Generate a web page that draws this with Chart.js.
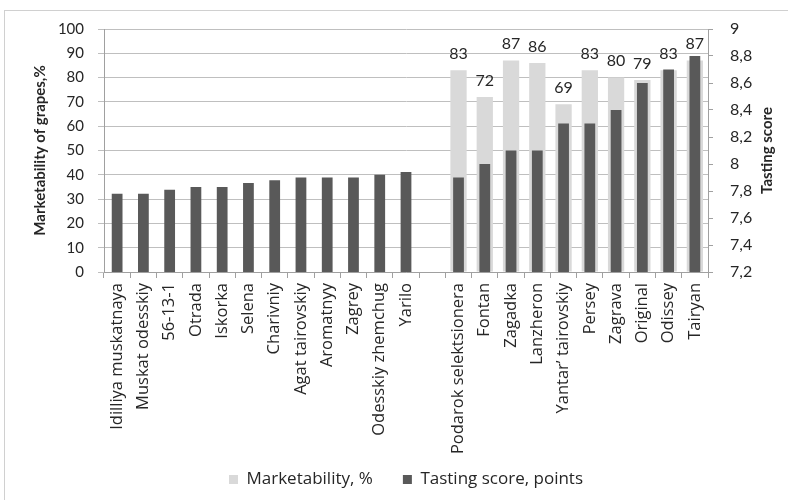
<!DOCTYPE html>
<html>
<head>
<meta charset="utf-8">
<script src="https://cdn.jsdelivr.net/npm/chart.js@4.4.1/dist/chart.umd.min.js"></script>
<style>
  html, body { margin: 0; padding: 0; background: #ffffff; overflow: hidden; }
  #wrap { position: relative; width: 788px; height: 500px; }
  #frame { position: absolute; left: 4px; top: 10px; right: -10px; bottom: -10px;
           border: 1px solid #d0d0d0; pointer-events: none; }
  canvas { position: absolute; left: 0; top: 0; }
</style>
</head>
<body>
<div id="wrap">
  <canvas id="chart" width="788" height="500"></canvas>
  <div id="frame"></div>
</div>
<script>
// Grape varieties (the empty entry separates the two groups)
const categories = [
  'Idilliya muskatnaya', 'Muskat odesskiy', '56-13-1', 'Otrada', 'Iskorka', 'Selena',
  'Charivniy', 'Agat tairovskiy', 'Aromatnyy', 'Zagrey', 'Odesskiy zhemchug', 'Yarilo',
  '',
  'Podarok selektsionera', 'Fontan', 'Zagadka', 'Lanzheron', 'Yantar\u2019 tairovskiy',
  'Persey', 'Zagrava', 'Original', 'Odissey', 'Tairyan'
];

// Marketability of grapes, %
const marketability = [
  null, null, null, null, null, null, null, null, null, null, null, null,
  null,
  83, 72, 87, 86, 69, 83, 80, 79, 83, 87
];

// Tasting score, points
const tastingScore = [
  7.78, 7.78, 7.81, 7.83, 7.83, 7.86, 7.88, 7.90, 7.90, 7.90, 7.92, 7.94,
  null,
  7.9, 8.0, 8.1, 8.1, 8.3, 8.3, 8.4, 8.6, 8.7, 8.8
];

// Right-axis tick labels (decimal comma)
const tastingTicks = ['7,2', '7,4', '7,6', '7,8', '8', '8,2', '8,4', '8,6', '8,8', '9'];

const FONT = 'Lato';
const WIDE = "'Open Sans'";
const TEXT = '#262626';
const GRID = '#bfbfbf';
const AXIS = '#a0a0a0';

// Value labels above the marketability bars
const valueLabels = {
  id: 'valueLabels',
  afterDatasetsDraw(chart) {
    const meta = chart.getDatasetMeta(0);
    const ctx = chart.ctx;
    ctx.save();
    ctx.font = '16px ' + FONT;
    ctx.fillStyle = TEXT;
    ctx.textAlign = 'center';
    ctx.textBaseline = 'alphabetic';
    meta.data.forEach((bar, i) => {
      const v = marketability[i];
      if (v === null || v === undefined) return;
      ctx.fillText(String(v), bar.x, bar.y - 11.5);
    });
    ctx.restore();
  }
};

// Right axis title, reading bottom to top
const rightTitle = {
  id: 'rightTitle',
  afterDraw(chart) {
    const s = chart.scales.y2;
    const ctx = chart.ctx;
    ctx.save();
    ctx.translate(s.right - 21, (s.top + s.bottom) / 2);
    ctx.rotate(-Math.PI / 2);
    ctx.font = 'bold 15px ' + FONT;
    ctx.fillStyle = TEXT;
    ctx.textAlign = 'center';
    ctx.textBaseline = 'middle';
    ctx.fillText('Tasting score', 0, 0);
    ctx.restore();
  }
};

// Legend row sits closer to the category labels than its item spacing would imply
const legendLift = {
  id: 'legendLift',
  afterLayout(chart) {
    const lg = chart.legend;
    if (!lg) return;
    lg.top -= 17;
    lg.height += 17;
  }
};

new Chart(document.getElementById('chart'), {
  type: 'bar',
  data: {
    labels: categories,
    datasets: [
      {
        label: 'Marketability, %',
        data: marketability,
        yAxisID: 'y',
        backgroundColor: '#d9d9d9',
        grouped: false,
        categoryPercentage: 1,
        barPercentage: 0.62,
        order: 1
      },
      {
        label: 'Tasting score, points',
        data: tastingScore,
        yAxisID: 'y2',
        backgroundColor: '#595959',
        grouped: false,
        categoryPercentage: 1,
        barPercentage: 0.41,
        order: 0
      }
    ]
  },
  options: {
    responsive: false,
    animation: false,
    devicePixelRatio: 1,
    layout: { padding: { left: 27, right: 0, top: 29, bottom: 0 } },
    plugins: {
      tooltip: { enabled: false },
      legend: {
        position: 'bottom',
        fullSize: false,
        reverse: true,
        maxHeight: 42,
        labels: {
          boxWidth: 9,
          boxHeight: 9,
          padding: 30,
          color: TEXT,
          font: { family: WIDE, size: 17 }
        }
      }
    },
    scales: {
      x: {
        grid: { display: true, drawOnChartArea: false, offset: true, tickLength: 6, color: AXIS },
        border: { display: true, color: AXIS },
        ticks: {
          autoSkip: false, maxRotation: 90, minRotation: 90, padding: 5,
          color: TEXT, font: { family: WIDE, size: 16.5 }
        },
        afterFit(s) { s.height = 186; }
      },
      y: {
        position: 'left',
        min: 0, max: 100,
        ticks: { stepSize: 10, padding: 14, color: TEXT, font: { family: FONT, size: 15 } },
        grid: { color: GRID, tickLength: 6 },
        border: { display: true, color: AXIS },
        title: {
          display: true,
          text: 'Marketability of grapes,%',
          color: TEXT,
          font: { family: FONT, size: 15, weight: 'bold' },
          padding: { top: 4, bottom: 0 }
        },
        afterFit(s) { s.width = 77; }
      },
      y2: {
        position: 'right',
        min: 7.2, max: 9,
        ticks: {
          stepSize: 0.2, padding: 17, color: TEXT, font: { family: FONT, size: 16 },
          callback: (v, i) => tastingTicks[i]
        },
        grid: { drawOnChartArea: false, tickLength: 5, color: AXIS },
        border: { display: true, color: AXIS },
        afterFit(s) { s.width = 80; }
      }
    }
  },
  plugins: [valueLabels, rightTitle, legendLift]
});
</script>
</body>
</html>
